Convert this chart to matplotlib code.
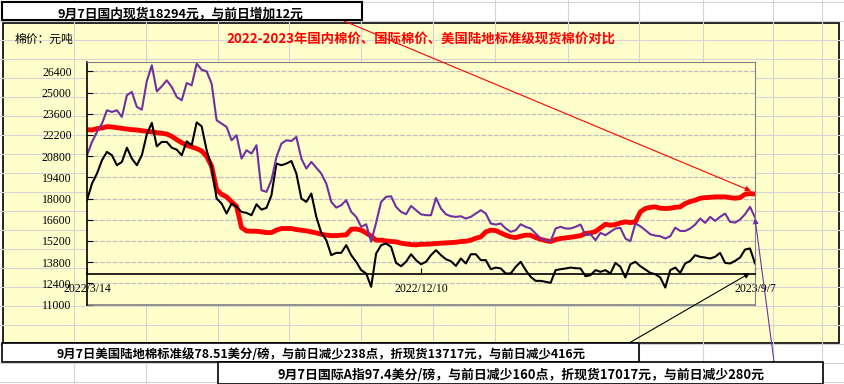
import matplotlib.pyplot as plt
from matplotlib.patches import Rectangle

plt.rcParams['font.family'] = ['Noto Sans CJK SC', 'DejaVu Sans']

# 国内现货 (red), 元/吨
domestic = [22550, 22530, 22620, 22660, 22750, 22730, 22680, 22640, 22590, 22550,
            22530, 22480, 22440, 22400, 22350, 22310, 22260, 22110, 21890, 21690,
            21520, 21410, 21300, 21140, 20790, 20130, 18590, 18280, 18110, 17780,
            17490, 16080, 15860, 15840,
            15840, 15800, 15750, 15750, 15910, 16020, 16020, 16020, 15950, 15910,
            15860, 15800, 15730, 15640, 15580, 15550, 15550, 15580, 15600, 15970,
            15990, 15910, 15730, 15510, 15250, 15250, 15200, 15160, 15140, 15050,
            15000, 14960, 14940,
            14980, 14980, 15000, 15030, 15050, 15070, 15090, 15110, 15160, 15180,
            15250, 15380, 15470, 15800, 15910, 15880, 15730, 15580, 15470, 15420,
            15510, 15580, 15580, 15420, 15310, 15220, 15160, 15290, 15360, 15400,
            15440, 15490, 15550, 15690,
            15730, 15820, 16060, 16300, 16240, 16280, 16390, 16460, 16410, 16460,
            17120, 17340, 17420, 17450, 17360, 17340, 17360, 17420, 17450, 17670,
            17800, 17890, 18020, 18060, 18080, 18110, 18110, 18110, 18060, 18020,
            18060, 18280, 18330, 18294]

# 国际A指 折现货 (purple)
index_a = [20860, 21740, 22400, 22950, 23830, 23720, 23830, 23390, 24820, 25040,
           24050, 23870, 25760, 26800, 25080, 25410, 25810, 25370, 24710, 24490,
           25630, 25480, 26910, 26510, 26400, 25590, 23170, 22950, 22730, 21850,
           22180, 20640, 21190, 20970,
           21520, 18550, 18440, 19210, 20750, 21630, 21850, 21800, 22070, 20640,
           19980, 20420, 20040, 19650, 18990, 17780, 17400, 17560, 17890, 17120,
           16790, 16130, 16300, 15150, 16410, 17780, 18110, 18150, 17450, 17120,
           16960, 17510, 17230,
           16960, 16900, 16900, 18040, 17340, 16960, 16830, 16790, 16830, 16680,
           16790, 17010, 17230, 17010, 16350, 16280, 16350, 16020, 15800, 15910,
           16300, 16130, 16020, 15690, 15360, 15250, 15180, 16020, 16130, 16020,
           16020, 16130, 16280, 15580,
           15640, 15250, 15730, 15580, 15800, 16020, 16060, 15360, 15180, 16350,
           16170, 15910, 15640, 15550, 15510, 15360, 15510, 16080, 15860, 15860,
           16020, 16280, 16680, 16390, 16790, 16520, 16790, 17010, 16460, 16410,
           16610, 16960, 17450, 16750]

# 美国陆地棉标准级 折现货 (black)
us_upland = [17890, 18990, 19650, 20530, 21080, 20860, 20200, 20420, 21360, 20640,
             20200, 20860, 22240, 23000, 21450, 21740, 21740, 21360, 21230, 20860,
             21780, 21520, 23030, 22770, 21190, 20090, 18000, 17670, 17010, 17670,
             17450, 17120, 17050, 16900,
             17620, 17270, 17380, 18220, 20310, 20200, 20310, 20480, 19650, 18000,
             17780, 18330, 16790, 15730, 15250, 14260, 14410, 14410, 14920, 14260,
             13820, 13270, 13050, 12170, 14370, 14920, 15030, 14810, 13750, 13530,
             13820, 14320, 13930,
             13660, 13820, 14260, 14590, 14260, 13990, 13860, 13550, 14040, 13710,
             14320, 14320, 13930, 13930, 13330, 13440, 13380, 13050, 13050, 13490,
             13820, 13270, 12830, 12560, 12560, 12500, 12430, 13270, 13330, 13380,
             13440, 13400, 13380, 12870,
             12940, 13270, 13160, 13270, 13050, 13750, 13490, 12780, 13660, 13820,
             13530, 13310, 13090, 13000, 12780, 12120, 13270, 13440, 13090, 13710,
             13880, 14260, 14150, 14100, 14040, 14150, 14410, 13750, 13710, 13880,
             14100, 14630, 14700, 13717]

date_labels = ['2022/3/14', '2022/12/10', '2023/9/7']
y_ticks = list(range(11000, 27000, 1400))

title = '2022-2023年国内棉价、国际棉价、美国陆地标准级现货棉价对比'
unit = '棉价：元吨'
note_top = '9月7日国内现货18294元，与前日增加12元'
note_us = '9月7日美国陆地棉标准级78.51美分/磅，与前日减少238点，折现货13717元，与前日减少416元'
note_a = '9月7日国际A指97.4美分/磅，与前日减少160点，折现货17017元，与前日减少280元'

W, H = 844, 384
yellow = '#FFFFCC'
fig = plt.figure(figsize=(W / 100, H / 100), dpi=100)

# spreadsheet background with cell lines and the chart area
bg = fig.add_axes([0, 0, 1, 1], zorder=0)
bg.set_xlim(0, W)
bg.set_ylim(H, 0)
bg.axis('off')
for k in range(21):
    bg.axhline(1.7 + 19 * k, color='#D4D4D4', lw=0.8)
for cx in [74, 146, 218, 289, 361, 433, 495, 568, 639, 703, 773, 822]:
    bg.axvline(cx, color='#D4D4D4', lw=0.8)
bg.add_patch(Rectangle((3, 23), 836, 320, facecolor=yellow, edgecolor='black', lw=1.2))

# plot area
ax = fig.add_axes([87 / W, 1 - 304.5 / H, 668 / W, 242.2 / H], zorder=1)
ax.set_facecolor(yellow)
x = list(range(len(domestic)))
ax.plot(x, domestic, color='#FF0000', lw=3.5, solid_capstyle='butt')
ax.plot(x, us_upland, color='black', lw=1.5)
ax.plot(x, index_a, color='#7030A0', lw=1.5)

n = len(domestic)
ax.set_xlim(0, n - 1)
ax.set_ylim(11000, 27000)
ax.set_yticks(y_ticks)
ax.yaxis.grid(True, color='#C0C0C0', lw=0.9, linestyle=(0, (4, 1)))
ax.set_axisbelow(True)
for s in ['top', 'right']:
    ax.spines[s].set_color('#808080')
ax.spines['left'].set_color('black')
ax.spines['left'].set_linewidth(1.2)
ax.spines['bottom'].set_position(('data', 13000))
ax.spines['bottom'].set_linewidth(1.2)
ax.plot([0, 1], [0, 0], transform=ax.transAxes, color='#808080', lw=1.2, clip_on=False)
ax.set_xticks([0, (n - 1) // 2, n - 1])
ax.set_xticklabels(date_labels)
ax.tick_params(axis='x', direction='in', length=4, pad=6, labelsize=8.5)
ax.tick_params(axis='y', direction='in', length=4, pad=11, labelsize=8.5)
for lbl in ax.get_xticklabels() + ax.get_yticklabels():
    lbl.set_fontfamily('Liberation Serif')

# overlay: arrows, boxes, texts
ov = fig.add_axes([0, 0, 1, 1], zorder=2)
ov.set_xlim(0, W)
ov.set_ylim(H, 0)
ov.axis('off')
ov.patch.set_alpha(0)

ov.annotate('', xy=(751, 191), xytext=(344, 21),
            arrowprops=dict(arrowstyle='-|>', color='red', lw=0.8, mutation_scale=8,
                            shrinkA=0, shrinkB=0))
ov.annotate('', xy=(750, 273), xytext=(624, 346),
            arrowprops=dict(arrowstyle='-|>', color='black', lw=0.8, mutation_scale=8,
                            shrinkA=0, shrinkB=0))
ov.annotate('', xy=(755, 218), xytext=(777, 384),
            arrowprops=dict(arrowstyle='-|>', color='#7030A0', lw=0.8, mutation_scale=8,
                            shrinkA=0, shrinkB=0))

ov.text(15, 39, unit, ha='left', va='center', fontsize=8.5)
ov.text(421, 39, title, ha='center', va='center', fontsize=9.6, fontweight='bold', color='red')

ov.add_patch(Rectangle((1.5, 1.7), 360.5, 18.8, facecolor='white', edgecolor='black', lw=1.5, zorder=5))
ov.text(180, 14, note_top, ha='center', va='center', fontsize=9.2, fontweight='bold', zorder=6)

ov.add_patch(Rectangle((1.5, 343), 637.5, 19, facecolor='white', edgecolor='black', lw=1.2, zorder=5))
ov.text(321, 355, note_us, ha='center', va='center', fontsize=8.9, fontweight='bold', zorder=6)

ov.add_patch(Rectangle((218, 362), 605, 21.5, facecolor='white', edgecolor='black', lw=1.2, zorder=5))
ov.text(521, 374.5, note_a, ha='center', va='center', fontsize=9.3, fontweight='bold', zorder=6)

fig.savefig('out.png', dpi=100)
